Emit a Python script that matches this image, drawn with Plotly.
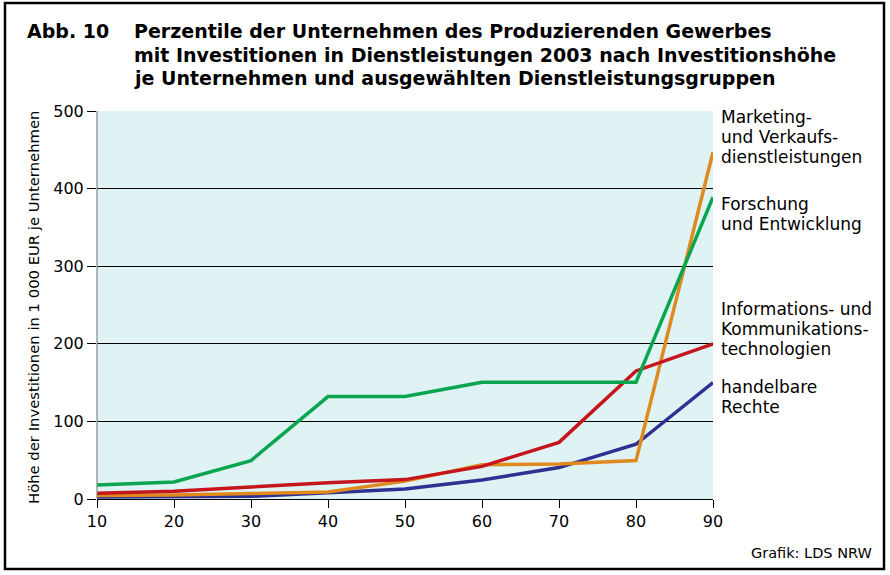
import plotly.graph_objects as go

# ---- data ----
perzentile = [10, 20, 30, 40, 50, 60, 70, 80, 90]
marketing = [4.5, 5, 7, 9, 23, 44, 45, 49.5, 447]
forschung = [18, 22, 49.5, 132, 132, 150.5, 150.5, 150.5, 389]
ikt = [7.5, 10, 15.5, 21, 25, 42, 73, 165, 200]
handelbare = [2.5, 2.5, 3.5, 8, 13, 24.5, 40.5, 70.5, 150]

series_names = ["Marketing- und Verkaufsdienstleistungen", "Forschung und Entwicklung",
                "Informations- und Kommunikationstechnologien", "handelbare Rechte"]
label_lines = [
    ["Marketing-", "und Verkaufs-", "dienstleistungen"],
    ["Forschung", "und Entwicklung"],
    ["Informations- und", "Kommunikations-", "technologien"],
    ["handelbare", "Rechte"],
]
y_ticks = [0, 100, 200, 300, 400, 500]
title_lines = [
    "Perzentile der Unternehmen des Produzierenden Gewerbes",
    "mit Investitionen in Dienstleistungen 2003 nach Investitionshöhe",
    "je Unternehmen und ausgewählten Dienstleistungsgruppen",
]
title_prefix = "Abb. 10"
y_title = "Höhe der Investitionen in 1 000 EUR je Unternehmen"
source = "Grafik: LDS NRW"

# ---- style ----
W, H = 890, 575
L, R, T, B = 97, 713, 111, 499
FONT = "DejaVu Sans"
colors = ["#e08a1e", "#0aa64f", "#c4161c", "#2e3192"]
data_series = [marketing, forschung, ikt, handelbare]

def px_x(x):
    return (x - L) / (R - L)

def px_y(y):
    return (B - y) / (B - T)

fig = go.Figure()
for i in [3, 0, 2, 1]:
    fig.add_trace(go.Scatter(
        x=perzentile, y=data_series[i], mode="lines", name=series_names[i],
        line=dict(color=colors[i], width=3.5), hoverinfo="x+y+name",
    ))

annotations = []
annotations.append(dict(text="<b>%s</b>" % title_prefix, x=px_x(25), y=px_y(31),
                        xanchor="left", yanchor="middle"))
for k, line in enumerate(title_lines):
    annotations.append(dict(text="<b>%s</b>" % line, x=px_x(132), y=px_y(31 + 23.5 * k),
                            xanchor="left", yanchor="middle"))
for a in annotations:
    a.update(xref="paper", yref="paper", showarrow=False,
             font=dict(family=FONT, size=19, color="#000"))

label_y = [117, 204, 309, 387]
for lines, y0 in zip(label_lines, label_y):
    for j, t in enumerate(lines):
        annotations.append(dict(text=t, x=px_x(719), y=px_y(y0 + 20 * j), xref="paper", yref="paper",
                                xanchor="left", yanchor="middle", showarrow=False,
                                font=dict(family=FONT, size=17, color="#000")))

annotations.append(dict(text=source, x=px_x(874), y=px_y(553), xref="paper", yref="paper",
                        xanchor="right", yanchor="middle", showarrow=False,
                        font=dict(family=FONT, size=14.5, color="#000")))
annotations.append(dict(text=y_title, x=px_x(33), y=px_y(308), xref="paper", yref="paper",
                        xanchor="center", yanchor="middle", showarrow=False, textangle=-90,
                        font=dict(family=FONT, size=14.8, color="#000")))

shapes = [
    dict(type="rect", xref="paper", yref="paper", x0=px_x(5), x1=px_x(884), y0=px_y(569), y1=px_y(3),
         line=dict(color="#000", width=2.5), layer="below"),
    dict(type="line", xref="paper", yref="paper", x0=0, x1=0, y0=0, y1=1,
         line=dict(color="#888", width=1.2)),
]

fig.update_layout(
    width=W, height=H,
    margin=dict(l=L, r=W - R, t=T, b=H - B),
    paper_bgcolor="white", plot_bgcolor="#dff2f4",
    showlegend=False,
    annotations=annotations, shapes=shapes,
    font=dict(family=FONT, color="#000"),
)
fig.update_xaxes(range=[10, 90], tickvals=perzentile, ticks="outside", ticklen=8, tickcolor="#000",
                 tickwidth=1, showgrid=False, showline=True, linecolor="#000", linewidth=1,
                 zeroline=False, tickfont=dict(family=FONT, size=16), fixedrange=True)
fig.update_yaxes(range=[0, 500], tickvals=y_ticks, ticks="outside", ticklen=9, tickcolor="#000",
                 tickwidth=1, showgrid=True, gridcolor="#000", gridwidth=1, zeroline=False,
                 showline=False, tickfont=dict(family=FONT, size=16), fixedrange=True)

fig.write_html("out.html", config={"displayModeBar": False},
               post_script="document.body.style.margin='0';")
